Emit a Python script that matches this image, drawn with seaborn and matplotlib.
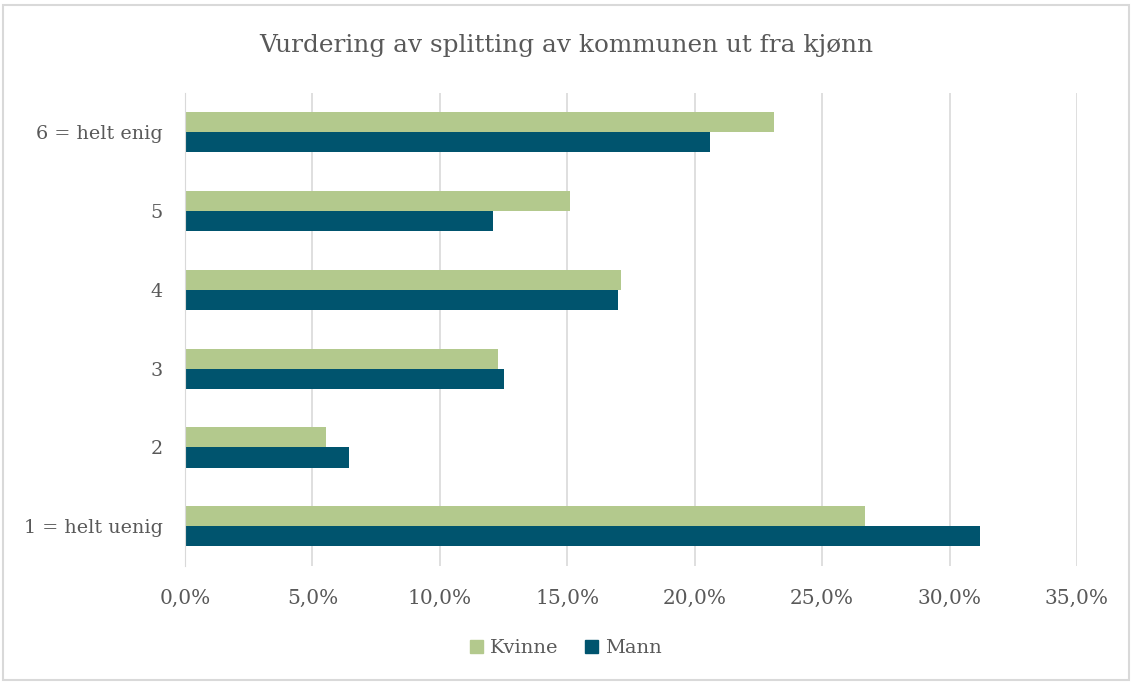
import pandas as pd
import numpy as np
import matplotlib
matplotlib.use("Agg")
import matplotlib.pyplot as plt
import seaborn as sns
from matplotlib.patches import Rectangle
from matplotlib.ticker import FuncFormatter

sns.set_style("white")
plt.rcParams["font.family"] = ["DejaVu Serif"]

categories = ["6 = helt enig", "5", "4", "3", "2", "1 = helt uenig"]
kvinne = [23.1, 15.1, 17.1, 12.3, 5.55, 26.7]
mann = [20.6, 12.1, 17.0, 12.5, 6.45, 31.2]
groups = ["Kvinne", "Mann"]
colors = ["#B3C98D", "#00546E"]
text_col = "#595959"

df = pd.DataFrame({
    "kategori": categories * 2,
    "andel": kvinne + mann,
    "kjonn": ["Kvinne"] * len(categories) + ["Mann"] * len(categories),
})

fig = plt.figure(figsize=(11.32, 6.82), dpi=100)
ax = fig.add_axes([0.1634, 0.1705, 0.7880, 0.6935])

sns.barplot(data=df, y="kategori", x="andel", hue="kjonn", order=categories,
            hue_order=groups, palette=colors, width=0.51, orient="h",
            ax=ax, legend=False, saturation=1, linewidth=0)

ax.set_xlim(0, 35)
ax.set_xticks(np.arange(0, 36, 5))
ax.xaxis.set_major_formatter(FuncFormatter(lambda v, p: f"{v:.1f}%".replace(".", ",")))
ax.grid(axis="x", color="#D9D9D9", linewidth=1.2)
ax.set_axisbelow(True)
for s in ["top", "right", "bottom"]:
    ax.spines[s].set_visible(False)
ax.spines["left"].set_color("#D9D9D9")
ax.set_xlabel("")
ax.set_ylabel("")
ax.tick_params(axis="both", length=0, colors=text_col)
ax.tick_params(axis="y", pad=16, labelsize=13.8)
ax.tick_params(axis="x", pad=17, labelsize=14.5)

fig.text(0.5, 0.934, "Vurdering av splitting av kommunen ut fra kjønn",
         ha="center", va="center", fontsize=17.8, color=text_col)

handles = [Rectangle((0, 0), 1, 1, color=c) for c in colors]
fig.legend(handles, groups, loc="center", bbox_to_anchor=(0.5, 0.05), ncol=2,
           frameon=False, fontsize=14, labelcolor=text_col, handlelength=0.65,
           handleheight=0.65, handletextpad=0.35, columnspacing=1.4)

fig.patches.append(Rectangle((0.003, 0.003), 0.994, 0.99, transform=fig.transFigure,
                             fill=False, edgecolor="#D9D9D9", linewidth=1.5))

fig.savefig("out.png", dpi=100)
